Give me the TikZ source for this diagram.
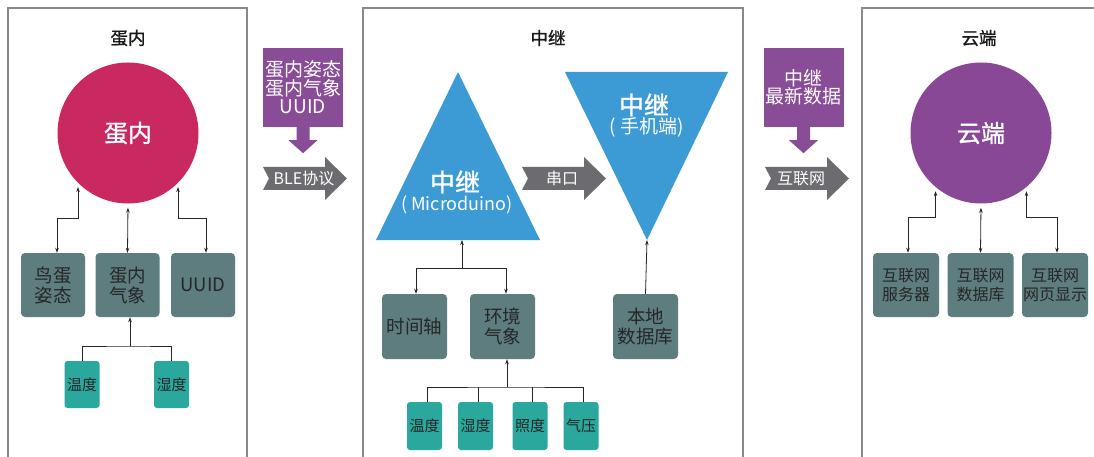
\documentclass[tikz,border=0pt]{standalone}
\usepackage{fontspec}
\setmainfont{Noto Sans CJK SC}
\newfontfamily\heavyfont[FakeBold=1.2]{Noto Sans CJK SC}
\usepackage{tikz}
\usetikzlibrary{arrows.meta,positioning,calc}

\definecolor{eggred}{RGB}{201,40,96}
\definecolor{cloudpurple}{RGB}{137,72,150}
\definecolor{msgpurple}{RGB}{137,76,151}
\definecolor{slatebox}{RGB}{94,125,127}
\definecolor{sensorteal}{RGB}{43,168,157}
\definecolor{relayblue}{RGB}{60,154,212}
\definecolor{pipegray}{RGB}{108,108,112}
\definecolor{panelgray}{RGB}{140,136,136}

% grey block arrow with notched tail, tail at #1
\newcommand{\pipearrow}[1]{\fill[pipegray] (#1) ++(0,-11.5) -- ++(62,0) -- ++(0,-10)
  -- ++(22,21.5) -- ++(-22,21.5) -- ++(0,-10) -- ++(-62,0) -- ++(6,-11.5) -- cycle;}
% purple drop arrow under a message box
\newcommand{\droparrow}[1]{\fill[msgpurple] (#1) ++(-6.5,0) -- ++(13,0) -- ++(0,13)
  -- ++(8,0) -- ++(-14.5,13) -- ++(-14.5,-13) -- ++(8,0) -- cycle;}

\begin{document}
\begin{tikzpicture}[
  x=1pt, y=-1pt,
  panel/.style={draw=panelgray, line width=1.4pt, fill=white},
  title/.style={font=\heavyfont\fontsize{17.5}{19}\selectfont, text=black!90},
  hub/.style={circle, minimum size=141pt, inner sep=0pt, text=white,
              font=\heavyfont\fontsize{24}{26}\selectfont},
  unit/.style={fill=slatebox, rounded corners=4pt, minimum width=64pt, minimum height=64pt,
               align=center, inner sep=1pt, text=black!85, font=\fontsize{18.5}{20}\selectfont},
  sensor/.style={fill=sensorteal, rounded corners=3pt, minimum width=35pt, minimum height=47pt,
                 inner sep=0pt, text=black!85, font=\fontsize{15}{16}\selectfont},
  msg/.style={fill=msgpurple, minimum width=80pt, minimum height=79pt, align=center,
              inner sep=1pt, text=white, font=\fontsize{19}{18.5}\selectfont},
  pipetext/.style={text=white, font=\fontsize{16}{18}\selectfont},
  link/.style={{Stealth[length=5pt,width=3.5pt]}-{Stealth[length=5pt,width=3.5pt]},
               line width=0.8pt, draw=black!85, shorten <=4pt},
  feed/.style={-{Stealth[length=5pt,width=3.5pt]}, line width=0.8pt, draw=black!85},
  wire/.style={line width=0.8pt, draw=black!85}
]
\useasboundingbox (0,0) rectangle (1094,457);
\begin{scope}
\clip (0,0) rectangle (1094,457);
\draw[panel] (8,8) rectangle (247,470);
\draw[panel] (363,8) rectangle (743,470);
\draw[panel] (862,8) rectangle (1110,470);
\end{scope}

% egg column
\node[title] (eggTitle) at (128,38) {蛋内};
\node[hub, fill=eggred] (egg) at (128,133) {蛋内};
\node[unit] (pose) at (53,285) {鸟蛋\\姿态};
\node[unit] (clim) at (127.5,285) {蛋内\\气象};
\node[unit] (uuid) at (203,285) {UUID};
\node[sensor] (tempL) at (82,384.5) {温度};
\node[sensor] (humL) at (171.5,384.5) {湿度};
\draw[link] (egg.-135) -- ++(0,35) -| ([xshift=4pt]pose.north);
\draw[link] (egg.south) -- (clim.north);
\draw[link] (egg.-45) -- ++(0,35) -| ([xshift=3pt]uuid.north);
\coordinate (eggFork) at (130,346);
\draw[wire] (tempL.north) |- (eggFork) -| (humL.north);
\draw[feed] (eggFork) -- (eggFork |- clim.south);

% egg -> relay
\node[msg] (msgEgg) at (303,87.5) {蛋内姿态\\蛋内气象\\UUID};
\droparrow{msgEgg.south}
\coordinate (bleTail) at (263,178.5);
\pipearrow{bleTail}
\node[pipetext] (ble) at (304,178.5) {BLE协议};

% relay column
\node[title] (relayTitle) at (548,38) {中继};
\coordinate (mcuTop) at (458,72);
\coordinate (mcuLeft) at (376,240);
\coordinate (mcuRight) at (540,240);
\fill[relayblue] (mcuTop) -- (mcuRight) -- (mcuLeft) -- cycle;
\node[text=white, font=\heavyfont\fontsize{25}{27}\selectfont] (mcu) at (455,182) {中继};
\node[text=white, font=\fontsize{18}{20}\selectfont] (mcuSub) at (457,205) {( Microduino)};
\coordinate (phoneLeft) at (565,72);
\coordinate (phoneRight) at (728,72);
\coordinate (phoneTip) at (647,240);
\fill[relayblue] (phoneLeft) -- (phoneRight) -- (phoneTip) -- cycle;
\node[text=white, font=\heavyfont\fontsize{25}{27}\selectfont] (phone) at (644,105) {中继};
\node[text=white, font=\fontsize{19}{21}\selectfont] (phoneSub) at (647,127) {( 手机端)};
\coordinate (serialTail) at (522,178.5);
\pipearrow{serialTail}
\node[pipetext] (serial) at (562,178.5) {串口};

\node[unit, minimum width=65pt, minimum height=65pt] (clock) at (414.5,326.5) {时间轴};
\node[unit, minimum width=65pt, minimum height=65pt] (env) at (502.5,326.5) {环境\\气象};
\node[unit, minimum width=65pt, minimum height=65pt] (localDb) at (645.5,326.5) {本地\\数据库};
\coordinate (mcuBase) at (462,240);
\coordinate (mcuFork) at (462,268);
\draw[feed] (mcuFork) -- (mcuBase);
\draw[feed] (mcuFork) -| ([xshift=1.5pt]clock.north);
\draw[feed] (mcuFork) -| ([xshift=3.5pt]env.north);
\draw[feed] (localDb.north) -- (phoneTip);

\node[sensor, minimum height=48pt] (tempM) at (424.5,426) {温度};
\node[sensor, minimum height=48pt] (humM) at (475.5,426) {湿度};
\node[sensor, minimum height=48pt] (lux) at (530,426) {照度};
\node[sensor, minimum height=48pt] (press) at (581,426) {气压};
\coordinate (envFork) at (507,387);
\draw[wire] ([xshift=2.5pt]tempM.north) |- (envFork) -| ([xshift=2.5pt]press.north);
\draw[wire] ([xshift=2.5pt]humM.north) -- ++(0,-15);
\draw[wire] ([xshift=2.5pt]lux.north) -- ++(0,-15);
\draw[feed] (envFork) -- (envFork |- env.south);

% relay -> cloud
\node[msg] (msgRelay) at (803.5,87.5) {中继\\最新数据};
\droparrow{msgRelay.south}
\coordinate (netTail) at (765,178.5);
\pipearrow{netTail}
\node[pipetext] (net) at (801,178.5) {互联网};

% cloud column
\node[title] (cloudTitle) at (979,38) {云端};
\node[hub, fill=cloudpurple] (cloud) at (981,133) {云端};
\node[unit, minimum width=66pt, font=\fontsize{16}{19}\selectfont] (server) at (906,285) {互联网\\服务器};
\node[unit, minimum width=66pt, font=\fontsize{16}{19}\selectfont] (netDb) at (980.5,285) {互联网\\数据库};
\node[unit, minimum width=66pt, font=\fontsize{16}{19}\selectfont] (webView) at (1055,285) {互联网\\网页显示};
\draw[link] (cloud.-130) -- ++(0,30) -| ([xshift=2pt]server.north);
\draw[link] (cloud.south) -- (netDb.north);
\draw[link] (cloud.-50) -- ++(0,30) -| ([xshift=2pt]webView.north);
\end{tikzpicture}
\end{document}
